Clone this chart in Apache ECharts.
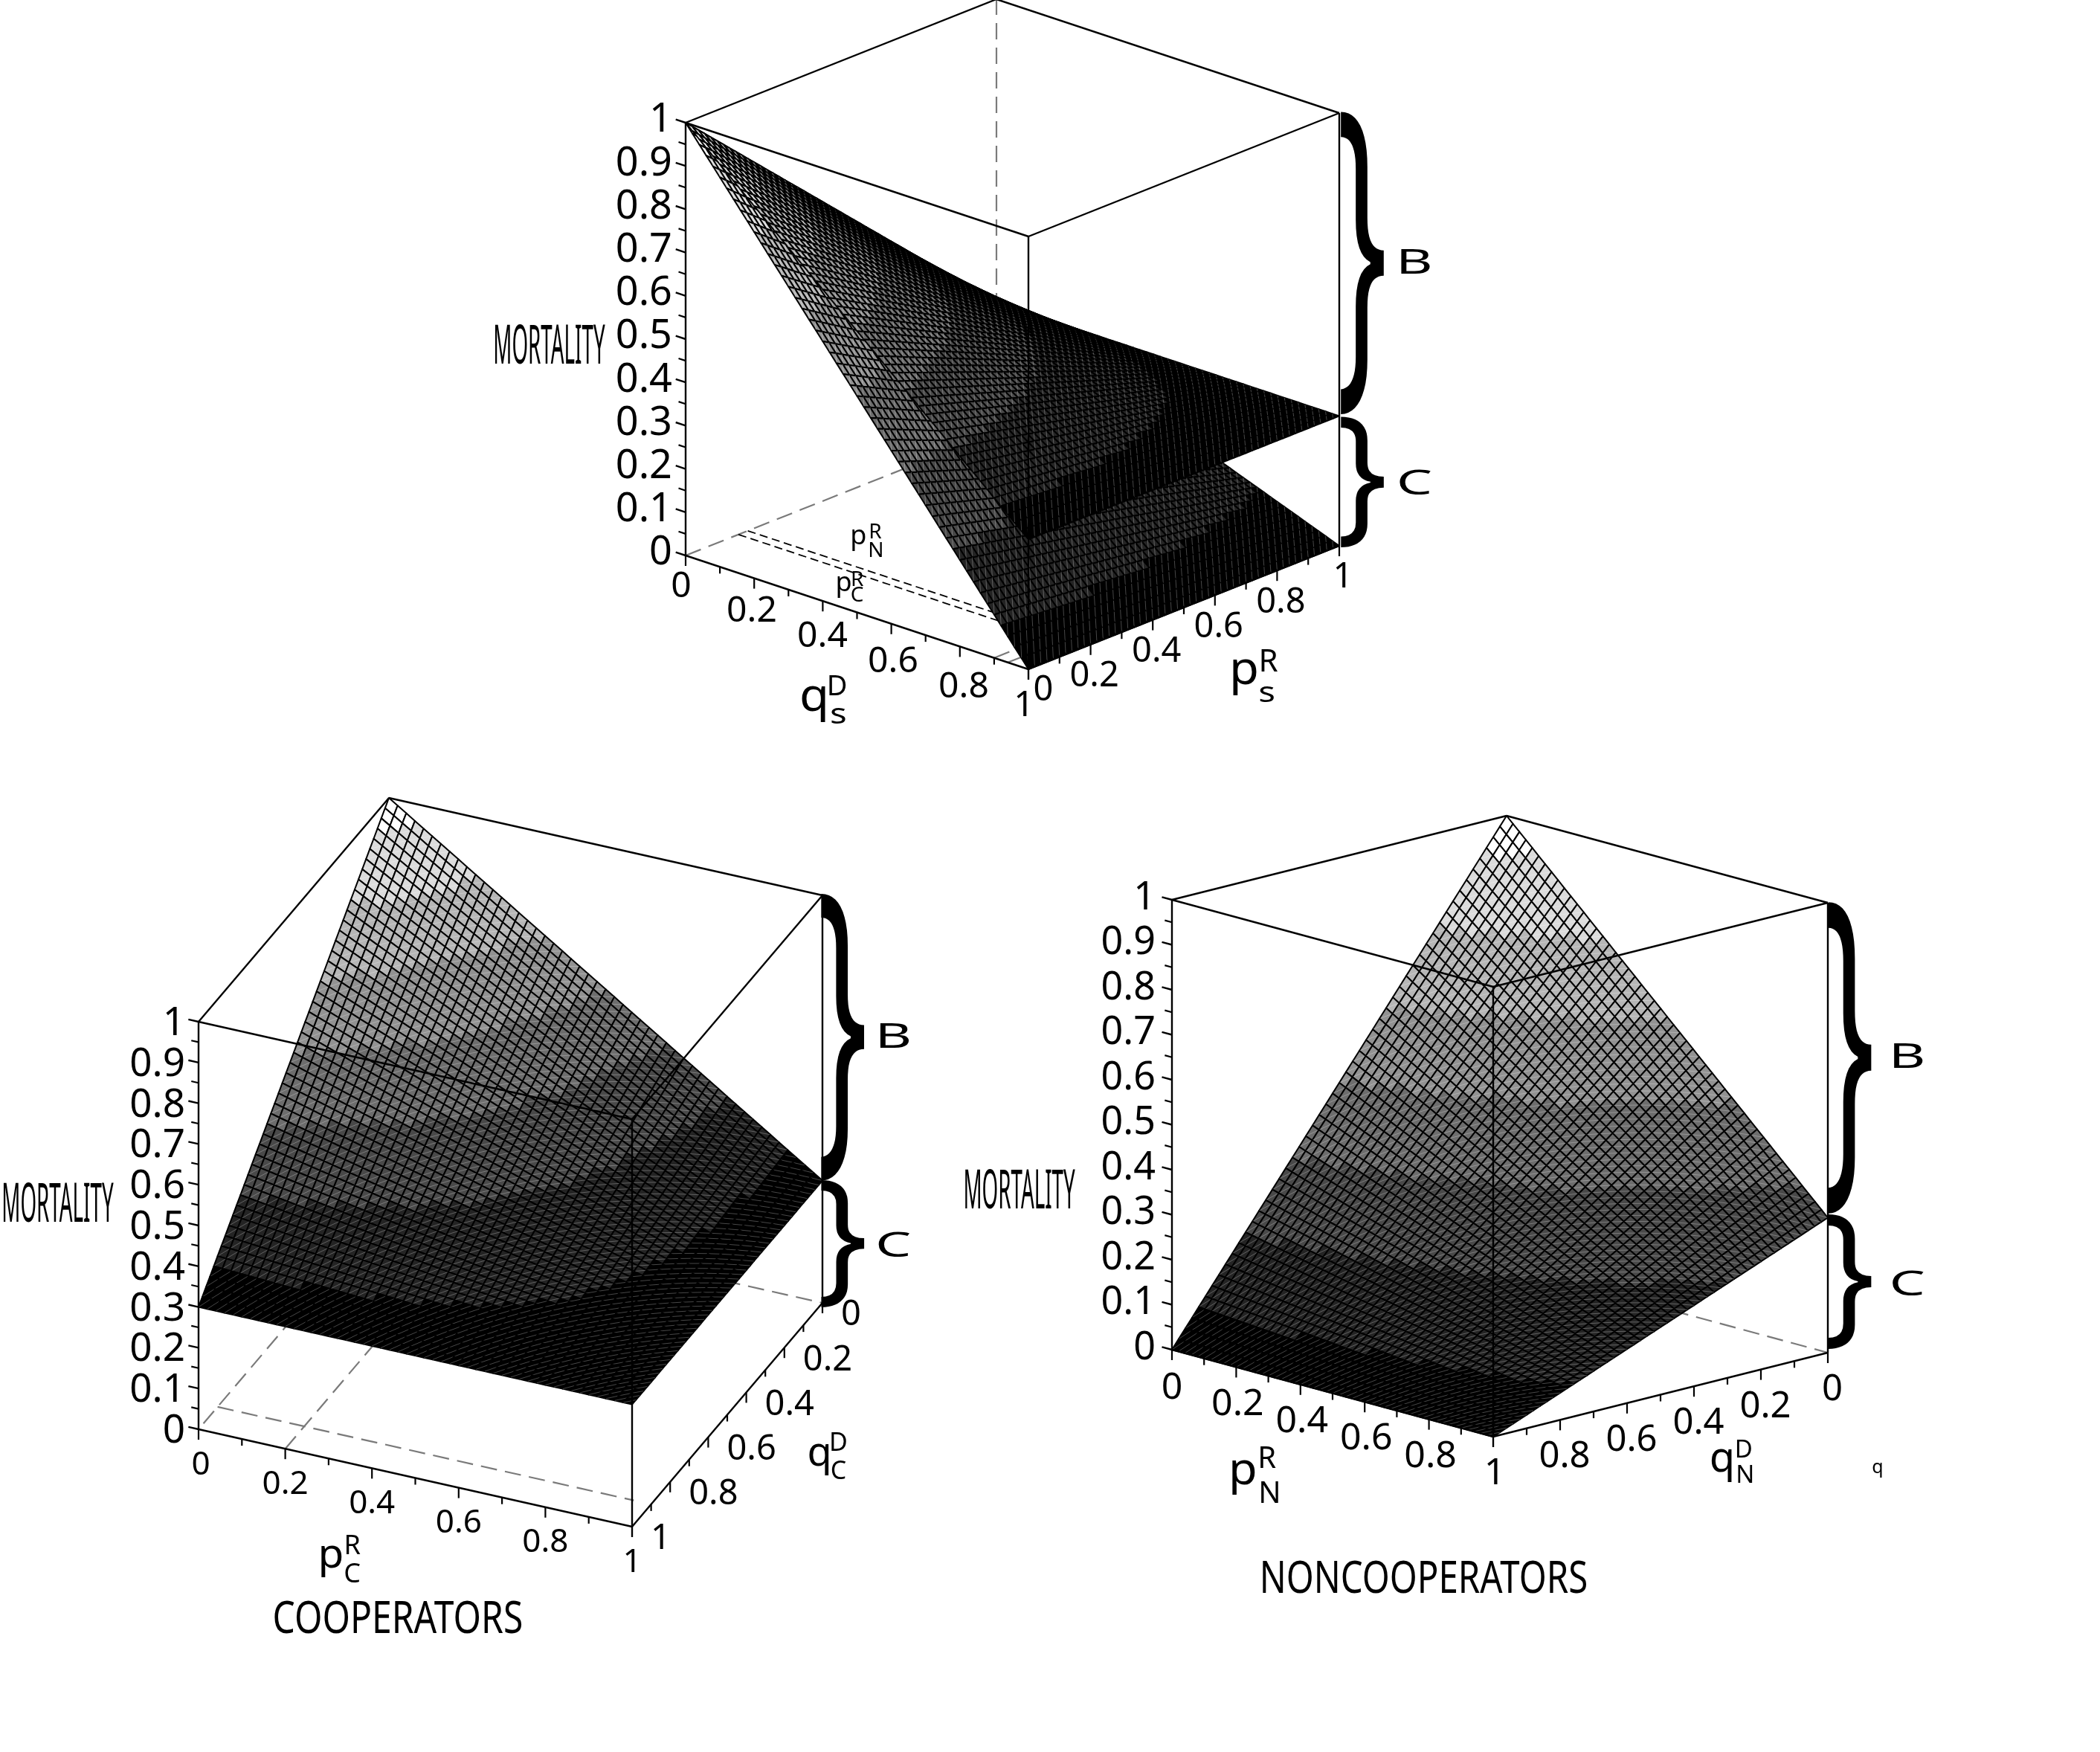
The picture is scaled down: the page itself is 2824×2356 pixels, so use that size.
<!DOCTYPE html>
<html><head><meta charset="utf-8">
<style>html,body{margin:0;padding:0;background:#fff}#c{width:2824px;height:2356px}</style>
<script src="https://cdn.jsdelivr.net/npm/echarts@6/dist/echarts.min.js"></script>
</head><body><div id="c"></div>
<script>
// ---- data, at axis positions 0, 0.1 ... 1 ----
const tableAxis = [0,0.1,0.2,0.3,0.4,0.5,0.6,0.7,0.8,0.9,1];
// rows: q = 0 ... 1, columns: p = 0 ... 1
const mortalityCooperators = [
[1.00,.93,.86,.79,.72,.65,.58,.51,.44,.37,.30],
[.93,.867,.804,.741,.678,.615,.552,.489,.426,.363,.30],
[.86,.804,.748,.692,.636,.58,.524,.468,.412,.356,.30],
[.79,.741,.692,.643,.594,.545,.496,.447,.398,.349,.30],
[.72,.678,.636,.594,.552,.51,.468,.426,.384,.342,.30],
[.65,.615,.58,.545,.51,.475,.44,.405,.37,.335,.30],
[.58,.552,.524,.496,.468,.44,.412,.384,.356,.328,.30],
[.51,.489,.468,.447,.426,.405,.384,.363,.342,.321,.30],
[.44,.426,.412,.398,.384,.37,.356,.342,.328,.314,.30],
[.37,.363,.356,.349,.342,.335,.328,.321,.314,.307,.30],
[.30,.30,.30,.30,.30,.30,.30,.30,.30,.30,.30]];
const mortalityNoncooperators = [
[1.00,.93,.86,.79,.72,.65,.58,.51,.44,.37,.30],
[.90,.837,.774,.711,.648,.585,.522,.459,.396,.333,.27],
[.80,.744,.688,.632,.576,.52,.464,.408,.352,.296,.24],
[.70,.651,.602,.553,.504,.455,.406,.357,.308,.259,.21],
[.60,.558,.516,.474,.432,.39,.348,.306,.264,.222,.18],
[.50,.465,.43,.395,.36,.325,.29,.255,.22,.185,.15],
[.40,.372,.344,.316,.288,.26,.232,.204,.176,.148,.12],
[.30,.279,.258,.237,.216,.195,.174,.153,.132,.111,.09],
[.20,.186,.172,.158,.144,.13,.116,.102,.088,.074,.06],
[.10,.093,.086,.079,.072,.065,.058,.051,.044,.037,.03],
[0,0,0,0,0,0,0,0,0,0,0]];
const zTicks = [0,0.1,0.2,0.3,0.4,0.5,0.6,0.7,0.8,0.9,1];
const zTickLabels = ['0','0.1','0.2','0.3','0.4','0.5','0.6','0.7','0.8','0.9','1'];
const baseTicks = [0,0.2,0.4,0.6,0.8,1];
const baseTickLabels = ['0','0.2','0.4','0.6','0.8','1'];
const baseMinorTicks = [0.1,0.3,0.5,0.7,0.9];
const zMinorTicks = [0.05,0.15,0.25,0.35,0.45,0.55,0.65,0.75,0.85,0.95];
const grayLevels = ['#000000','#242424','#494949','#6d6d6d','#929292','#b6b6b6','#dbdbdb','#ffffff'];
const MESH = 50;

// ---- layout ----
const views = {
  top:{anchor:[922,747],pVec:[418,-166],qVec:[461,153],zVec:[0,-582],
    zAxisAt:[0,0],zTickDir:'q-',pAxisQ:1,qAxisP:0,zFont:54,zRight:-18,zDy:-3,
    pFont:47,pOff:[5,43],pZero:[20,29],pAlign:'center',qFont:48,qOff:[-6,42],qSlope:[14,16],qLast:[-6,49],qAlign:'center',qLabels:baseTickLabels,
    sheets:[mortalityNoncooperators,mortalityCooperators],
    solid:[[0,0,0,0,0,1],[0,0,1,1,0,1],[1,0,1,1,1,1],[1,1,1,0,1,1],[0,1,1,0,0,1],[1,1,0,1,1,1],[0,1,0,0,1,1],[0,0,0,0,1,0],[0,1,0,1,1,0]],
    dashed:[[1,0,0,1,0,1],[0,0,0,1,0,0],[1,0,0,1,1,0],[0,0.9,0,0.3,0.9,0],[0,0.94,0,0.3,0.94,0]],
    fine:[[0.2,0,0,0.2,0.8,0],[0.17,0,0,0.17,0.8,0]]},
  cooperators:{anchor:[523,1621],pVec:[583,131],qVec:[-256,301],zVec:[0,-548],
    zAxisAt:[0,1],zTickDir:'p-',pAxisQ:1,qAxisP:1,zFont:53,zRight:-18,zDy:3,
    pFont:44,pOff:[0,48],pZero:[3,48],pAlign:'center',qFont:47,qOff:[25,17],qSlope:[0,0],qAlign:'left',qLabels:baseTickLabels,
    sheets:[mortalityCooperators],
    solid:[[0,1,0,0,1,1],[0,0,1,1,0,1],[1,0,1,1,1,1],[1,1,1,0,1,1],[0,1,1,0,0,1],[1,1,0,1,1,1],[1,0,0,1,0,1],[0,1,0,1,1,0],[1,1,0,1,0,0]],
    dashed:[[0,0,0,0,1,0],[0,0,0,1,0,0],[0,0.9,0,0.96,0.9,0],[0.2,1,0,0.2,0,0]],fine:[]},
  noncooperators:{anchor:[2026,1702],pVec:[432,117],qVec:[-450,113],zVec:[0,-605],
    zAxisAt:[0,1],zTickDir:'p-',pAxisQ:1,qAxisP:1,zFont:52,zRight:-22,zDy:-2,
    pFont:50,pOff:[2,50],pZero:[0,52],pAlign:'center',qFont:49,qOff:[6,50],qSlope:[0,0],qAlign:'center',qLabels:['0','0.2','0.4','0.6','0.8',''],
    sheets:[mortalityNoncooperators],
    solid:[[0,1,0,0,1,1],[0,0,1,1,0,1],[1,0,1,1,1,1],[1,1,1,0,1,1],[0,1,1,0,0,1],[1,1,0,1,1,1],[1,0,0,1,0,1],[0,1,0,1,1,0],[1,1,0,1,0,0]],
    dashed:[[0,0,0,0,1,0],[0,0,0,1,0,0]],fine:[]}
};
const S = 1.801;
// text, x, y (in reference-thumbnail units), font size, optional horizontal stretch
const annotations = [
 ['q',608,521,62,1.05],['D',625,513,38],['s',626,534,38,1.25],['p',929,501,62,1.05],['R',947,495,42],['s',946,518,38,1.25],
 ['p',641,401,36],['R',653.5,397.5,28],['N',654,411.5,28],['p',630,435.5,36],['R',640,433,28],['C',640,445,28],
 ['p',247,1162,54,1.05],['R',263,1155,36],['C',263,1176,36],['q',612,1086,54],['D',626,1078,34],['C',626,1099,34],
 ['p',928,1099,60,1.05],['R',946,1090,40],['N',948,1116,40],['q',1286,1090,56],['D',1302,1083,33],['N',1303,1102,33],
 ['q',1402,1096,25]];
// text, x, y (in reference-thumbnail units), font size, horizontal and vertical stretch
const stretched = [
 ['MORTALITY',410,260,73,.38,1],['MORTALITY',43,901,73,.38,1],['MORTALITY',761,891,73,.38,1],
 ['COOPERATORS',297,1210,60,.8,1],['NONCOOPERATORS',1063,1180,60,.79,1],
 ['B',1056,197,45,1.7,1],['C',1056,362,45,1.7,1],['B',667,775,45,1.7,1],['C',667,931,45,1.7,1],['B',1424,790,45,1.7,1],['C',1424,960,45,1.7,1],
 ['}',1017,194.7,100,1.8,4.66],['}',1017,359,100,1.8,2.02],['}',629,772.8,100,1.8,4.42],['}',629,928,100,1.8,1.96],['}',1381,788,100,1.8,4.8],['}',1381,956,100,1.8,2.07]];

// ---- helpers ----
function project(v,p,q,z){return [v.anchor[0]+p*v.pVec[0]+q*v.qVec[0]+z*v.zVec[0], v.anchor[1]+p*v.pVec[1]+q*v.qVec[1]+z*v.zVec[1]];}
function sample(table,p,q){
  const n=tableAxis.length-1, a=Math.min(n-1,Math.floor(p*n+1e-9)), b=Math.min(n-1,Math.floor(q*n+1e-9));
  const u=p*n-a, w=q*n-b;
  return (1-u)*(1-w)*table[b][a]+u*(1-w)*table[b][a+1]+(1-u)*w*table[b+1][a]+u*w*table[b+1][a+1];
}
function sheetSeries(v,table){
  const flat=table.reduce((x,r)=>x.concat(r),[]), lo=Math.min.apply(null,flat), hi=Math.max.apply(null,flat);
  const cells=[];
  for(let j=0;j<MESH;j++)for(let i=0;i<MESH;i++){
    const P=[i/MESH,(i+1)/MESH],Q=[j/MESH,(j+1)/MESH];
    const zs=[sample(table,P[0],Q[0]),sample(table,P[1],Q[0]),sample(table,P[1],Q[1]),sample(table,P[0],Q[1])];
    const c=project(v,(P[0]+P[1])/2,(Q[0]+Q[1])/2,0);
    cells.push([i,j,zs[0],zs[1],zs[2],zs[3],c[1]]);
  }
  cells.sort((a,b)=>a[6]-b[6]);
  return {type:'custom',coordinateSystem:'cartesian2d',silent:true,animation:false,progressive:0,clip:false,data:cells,
    renderItem(params,api){
      const i=api.value(0),j=api.value(1),z=[api.value(2),api.value(3),api.value(4),api.value(5)];
      const p0=i/MESH,p1=(i+1)/MESH,q0=j/MESH,q1=(j+1)/MESH;
      const pts=[project(v,p0,q0,z[0]),project(v,p1,q0,z[1]),project(v,p1,q1,z[2]),project(v,p0,q1,z[3])].map(a=>api.coord(a));
      const mean=(z[0]+z[1]+z[2]+z[3])/4;
      const level=Math.round(7*(mean-lo)/(hi-lo));
      return {type:'group',children:[
        {type:'polygon',shape:{points:pts},style:{fill:grayLevels[level],stroke:'#000',lineWidth:2,lineJoin:'round'}},
        {type:'line',shape:{x1:pts[1][0],y1:pts[1][1],x2:pts[3][0],y2:pts[3][1]},style:{stroke:'rgba(255,255,255,0.28)',lineWidth:1}}
      ]};
    }};
}
function segmentSeries(items){
  return {type:'custom',coordinateSystem:'cartesian2d',silent:true,animation:false,clip:false,data:items.map((s,k)=>[k]),
    renderItem(params,api){
      const s=items[api.value(0)],a=api.coord(s.a),b=api.coord(s.b);
      return {type:'line',shape:{x1:a[0],y1:a[1],x2:b[0],y2:b[1]},style:{stroke:s.c,lineWidth:s.w,lineDash:s.d||null,lineCap:'butt'}};
    }};
}
const backSegs=[],frontSegs=[],texts=[];
function edge(v,e){return {a:project(v,e[0],e[1],e[2]),b:project(v,e[3],e[4],e[5])};}
function unit(x,y){const l=Math.hypot(x,y);return [x/l,y/l];}
Object.keys(views).forEach(name=>{
  const v=views[name];
  v.dashed.forEach(e=>backSegs.push(Object.assign(edge(v,e),{c:'#7a7a7a',w:2.2,d:[22,11]})));
  v.fine.forEach(e=>backSegs.push(Object.assign(edge(v,e),{c:'#000',w:1.8,d:[11,6]})));
  v.solid.forEach(e=>frontSegs.push(Object.assign(edge(v,e),{c:'#000',w:2.4})));
  const zBase=v.zAxisAt, zDir=v.zTickDir==='q-'?unit(-v.qVec[0],-v.qVec[1]):unit(-v.pVec[0],-v.pVec[1]);
  zTicks.forEach((t,k)=>{
    const a=project(v,zBase[0],zBase[1],t);
    frontSegs.push({a,b:[a[0]+zDir[0]*14,a[1]+zDir[1]*14],c:'#000',w:2.4});
    texts.push({t:zTickLabels[k],x:a[0]+v.zRight,y:a[1]+v.zDy,size:v.zFont,align:'right'});
  });
  zMinorTicks.forEach(t=>{const a=project(v,zBase[0],zBase[1],t);frontSegs.push({a,b:[a[0]+zDir[0]*10,a[1]+zDir[1]*10],c:'#000',w:2.2});});
  baseTicks.forEach((t,k)=>{
    const a=project(v,t,v.pAxisQ,0), off=(k===0)?v.pZero:v.pOff;
    frontSegs.push({a,b:[a[0],a[1]+14],c:'#000',w:2.2});
    texts.push({t:baseTickLabels[k],x:a[0]+off[0],y:a[1]+off[1],size:v.pFont,align:v.pAlign});
    const b=project(v,v.qAxisP,t,0);
    frontSegs.push({a:b,b:[b[0],b[1]+14],c:'#000',w:2.2});
    const qo=(t===1&&v.qLast)?v.qLast:[v.qOff[0]+t*v.qSlope[0],v.qOff[1]+t*v.qSlope[1]];
    if(v.qLabels[k]) texts.push({t:v.qLabels[k],x:b[0]+qo[0],y:b[1]+qo[1],size:v.qFont,align:v.qAlign});
  });
  baseMinorTicks.forEach(t=>{
    const a=project(v,t,v.pAxisQ,0),b=project(v,v.qAxisP,t,0);
    frontSegs.push({a,b:[a[0],a[1]+9],c:'#000',w:2.2});
    frontSegs.push({a:b,b:[b[0],b[1]+9],c:'#000',w:2.2});
  });
});
annotations.forEach(a=>texts.push({t:a[0],x:a[1]*S,y:a[2]*S,size:a[3],align:'center',sx:a[4]}));
stretched.forEach(a=>texts.push({t:a[0],x:a[1]*S,y:a[2]*S,size:a[3],align:'center',sx:a[4],sy:a[5]}));

const textSeries={type:'custom',coordinateSystem:'cartesian2d',silent:true,animation:false,clip:false,data:texts.map((t,k)=>[k]),
  renderItem(params,api){
    const t=texts[api.value(0)],c=api.coord([t.x,t.y]);
    return {type:'text',x:c[0],y:c[1],scaleX:t.sx||1,scaleY:t.sy||1,
      style:{text:t.t,x:0,y:0,fill:'#000',font:t.size+'px "Noto Sans"',align:t.align,verticalAlign:'middle'}};
  }};

const series=[segmentSeries(backSegs)];
Object.keys(views).forEach(n=>views[n].sheets.forEach(tb=>series.push(sheetSeries(views[n],tb))));
series.push(segmentSeries(frontSegs));
series.push(textSeries);

const chart=echarts.init(document.getElementById('c'),null,{renderer:'canvas',width:2824,height:2356});
chart.setOption({animation:false,backgroundColor:'#fff',
  grid:{left:0,right:0,top:0,bottom:0},
  xAxis:{type:'value',min:0,max:2824,show:false},
  yAxis:{type:'value',min:0,max:2356,inverse:true,show:false},
  series});
</script></body></html>
